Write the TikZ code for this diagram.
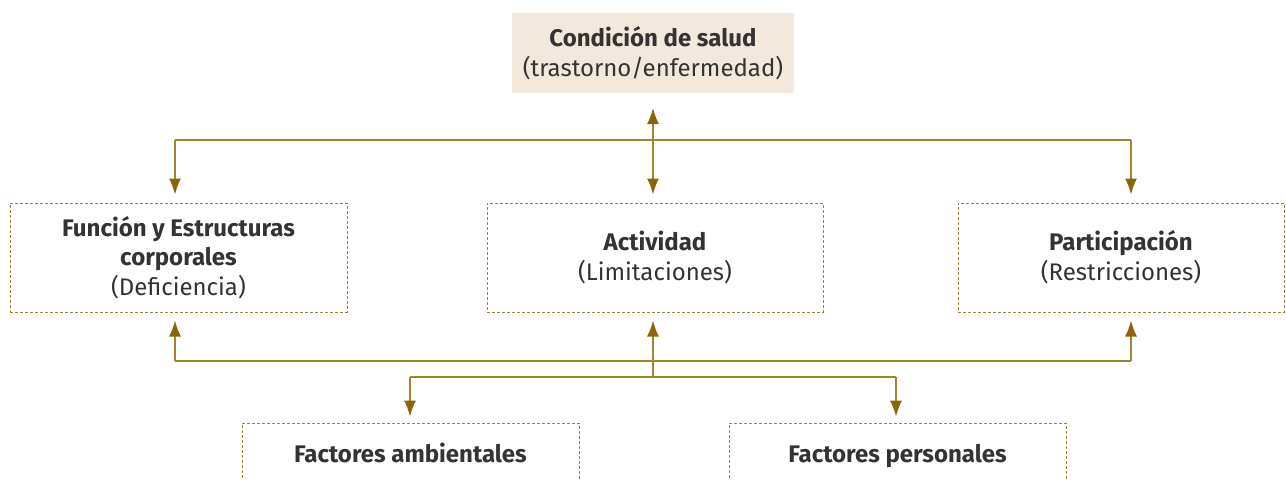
\documentclass[tikz,border=0pt]{standalone}
\usepackage{fontspec}
\setmainfont{Fira Sans}
\usetikzlibrary{arrows.meta}
\definecolor{oro}{HTML}{A08430}
\definecolor{orotip}{HTML}{8B6508}
\definecolor{crema}{HTML}{F2E9DC}
\definecolor{texto}{HTML}{333333}
\tikzset{
  caja/.style={draw=oro, dash pattern=on 1.5pt off 1pt, line width=0.5pt, align=center,
    text=texto, font=\fontsize{12}{14.8}\selectfont, inner sep=0pt},
  salud/.style={fill=crema, align=center, text=texto,
    font=\fontsize{12}{15}\selectfont, inner sep=0pt},
  enlace/.style={draw=oro, line width=0.8pt},
  flecha/.style={enlace, -{Latex[length=8pt,width=6pt,color=orotip]}},
  dflecha/.style={enlace, {Latex[length=8pt,width=6pt,color=orotip]}-{Latex[length=8pt,width=6pt,color=orotip]}}
}
\begin{document}
\begin{tikzpicture}[x=0.5pt,y=-0.5pt]
  \useasboundingbox (0,0) rectangle (1286,479);
  % nodos
  \node[salud, minimum width=141pt, minimum height=40pt] (cond) at (653,53)
    {\textbf{Condición de salud}\\(trastorno/enfermedad)};
  \node[caja, minimum width=168.5pt, minimum height=54.5pt] (func) at (178.5,257.5)
    {\textbf{Función y Estructuras}\\\textbf{corporales}\\(Deficiencia)};
  \node[caja, minimum width=168pt, minimum height=54.5pt] (act) at (655,257.5)
    {\textbf{Actividad}\\(Limitaciones)};
  \node[caja, minimum width=163pt, minimum height=54.5pt] (part) at (1121,257.5)
    {\textbf{Participación}\\(Restricciones)};
  \node[caja, minimum width=168.5pt, text height=19.5pt, text depth=35pt] (amb) at (410.5,477.5)
    {\textbf{Factores ambientales}};
  \node[caja, minimum width=168.5pt, text height=19.5pt, text depth=35pt] (pers) at (897.5,477.5)
    {\textbf{Factores personales}};
  % barra superior
  \coordinate (ti) at (175,140);
  \coordinate (td) at (1131,140);
  \draw[enlace] (ti) -- (td);
  \draw[flecha, shorten >=4pt] (ti) -- (ti |- func.north);
  \draw[flecha, shorten >=4pt] (td) -- (td |- part.north);
  \draw[dflecha, shorten <=7.5pt, shorten >=4pt] (653,93) coordinate (cs) -- (cs |- act.north);
  % barra inferior
  \coordinate (bi) at (175,361);
  \coordinate (bd) at (1131,361);
  \coordinate (bm) at (653,377);
  \draw[enlace] (bi) -- (bd);
  \draw[flecha, shorten >=4pt] (bi) -- (bi |- func.south);
  \draw[flecha, shorten >=4pt] (bd) -- (bd |- part.south);
  \draw[flecha, shorten >=4pt] (bm) -- (bm |- act.south);
  \coordinate (ri) at (410,377);
  \coordinate (rd) at (896,377);
  \draw[enlace] (ri) -- (rd);
  \draw[flecha, shorten >=3pt] (ri) -- (ri |- amb.north);
  \draw[flecha, shorten >=3pt] (rd) -- (rd |- pers.north);
\end{tikzpicture}
\end{document}
